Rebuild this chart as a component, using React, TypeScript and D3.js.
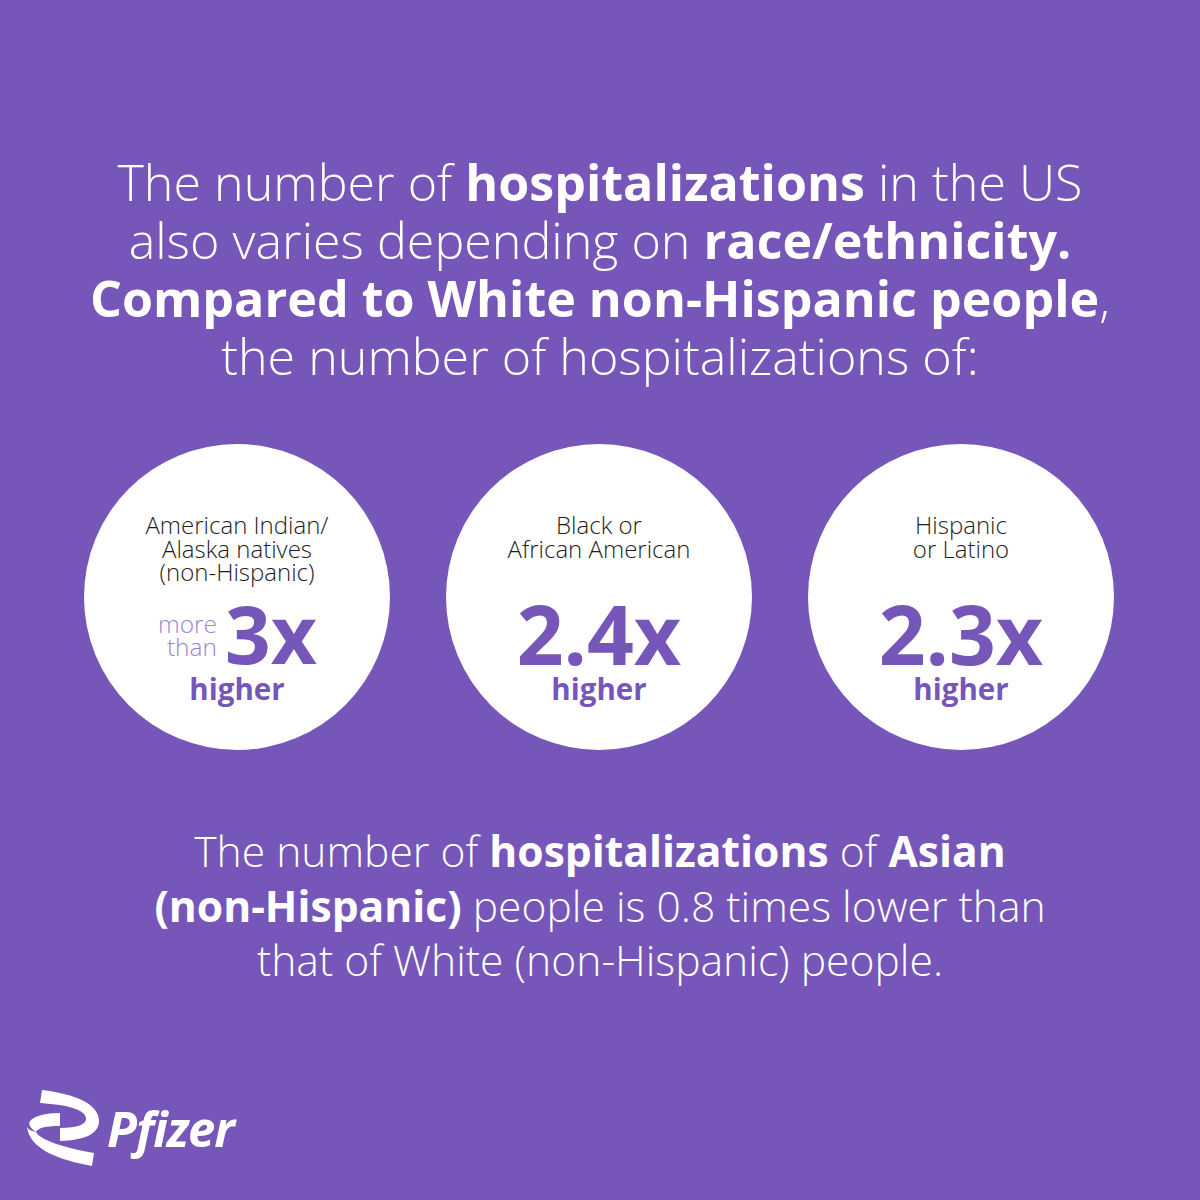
import * as React from 'react';
import { useLayoutEffect } from 'react';
import * as d3 from 'd3';

// ---- data ----
const groups = ['American Indian/Alaska natives', 'Black or African American', 'Hispanic or Latino'];
const groupLabelLines = [
  ['American Indian/', 'Alaska natives', '(non-Hispanic)'],
  ['Black or', 'African American'],
  ['Hispanic', 'or Latino'],
];
const ratios = [3, 2.4, 2.3];
const ratioLabels = ['3x', '2.4x', '2.3x'];
const ratioPrefixes = [['more', 'than'], null, null];

type Seg = [string, boolean];
const titleLines: Seg[][] = [
  [['The number of ', false], ['hospitalizations', true], [' in the US', false]],
  [['also varies depending on ', false], ['race/ethnicity.', true]],
  [['Compared to White non-Hispanic people', true], [',', false]],
  [['the number of hospitalizations of:', false]],
];
const footLines: Seg[][] = [
  [['The number of ', false], ['hospitalizations', true], [' of ', false], ['Asian', true]],
  [['(non-Hispanic)', true], [' people is 0.8 times lower than', false]],
  [['that of White (non-Hispanic) people.', false]],
];

const W = 1200;
const H = 1200;
const BG = '#7656b8';
const PURPLE = '#7656b8';
const LIGHT_PURPLE = '#9c84d2';
const FONT = '"Open Sans", sans-serif';

const x = d3.scalePoint<string>().domain(groups).range([237, 961]);
const cy = 597;
const r = 153;

const SegText: React.FC<{ lines: Seg[][]; y0: number; lh: number; fs: number }> = ({ lines, y0, lh, fs }) => (
  <>
    {lines.map((line, i) => (
      <text key={i} x={W / 2} y={y0 + i * lh} textAnchor="middle" fill="#fff" fontSize={fs} fontFamily={FONT}>
        {line.map(([t, b], j) => (
          <tspan key={j} fontWeight={b ? 700 : 300}>{t}</tspan>
        ))}
      </text>
    ))}
  </>
);

const App: React.FC = () => {
  useLayoutEffect(() => {
    document.body.style.margin = '0';
  }, []);

  return (
    <svg width={W} height={H} style={{ display: 'block' }}>
      <rect width={W} height={H} fill={BG} />
      <SegText lines={titleLines} y0={201} lh={58} fs={50.2} />

      {groups.map((g, i) => {
        const cx = x(g)!;
        const lines = groupLabelLines[i];
        const prefix = ratioPrefixes[i];
        return (
          <g key={g}>
            <circle cx={cx} cy={cy} r={r} fill="#fff" />
            {lines.map((l, k) => (
              <text key={k} x={cx} y={cy - 63 + k * 23.5} textAnchor="middle" fontSize={24}
                fontWeight={300} fill="#1e1e1e" fontFamily={FONT}>{l}</text>
            ))}
            {prefix ? (
              <>
                {prefix.map((p, k) => (
                  <text key={k} x={cx - 20} y={cy + 36 + k * 23} textAnchor="end" fontSize={24.5}
                    fontWeight={300} fill={LIGHT_PURPLE} fontFamily={FONT}>{p}</text>
                ))}
                <text x={cx - 12} y={cy + 67} textAnchor="start" fontSize={80} fontWeight={700}
                  fill={PURPLE} fontFamily={FONT}>{ratioLabels[i]}</text>
              </>
            ) : (
              <text x={cx} y={cy + 68} textAnchor="middle" fontSize={82} fontWeight={700}
                fill={PURPLE} fontFamily={FONT} data-value={ratios[i]}>{ratioLabels[i]}</text>
            )}
            <text x={cx} y={cy + 103} textAnchor="middle" fontSize={29.5} fontWeight={700}
              fill={PURPLE} fontFamily={FONT}>higher</text>
          </g>
        );
      })}

      <SegText lines={footLines} y0={867} lh={54.5} fs={42.6} />

      {/* logo */}
      <g fill="#fff">
        <path d="M42,1090 C75,1094 100,1104 99,1122 C98,1134 85,1140 60,1141 L60,1128 C78,1128 86,1124 86,1119 C86,1110 70,1105 40,1103 Z" />
        <path d="M60,1113 L60,1126 C45,1126 38,1128 36,1132 C30,1128 28,1124 30,1121 C34,1116 45,1113 60,1113 Z" />
        <path d="M27,1127 C30,1150 60,1160 92,1166 L94,1153 C65,1148 40,1140 36,1132 C31,1131 28,1129 27,1127 Z" />
        <text x={107} y={1147} fontSize={49} fontWeight={700} fontStyle="italic" fontFamily={FONT} letterSpacing={-1}>Pfizer</text>
      </g>
    </svg>
  );
};

export default App;
